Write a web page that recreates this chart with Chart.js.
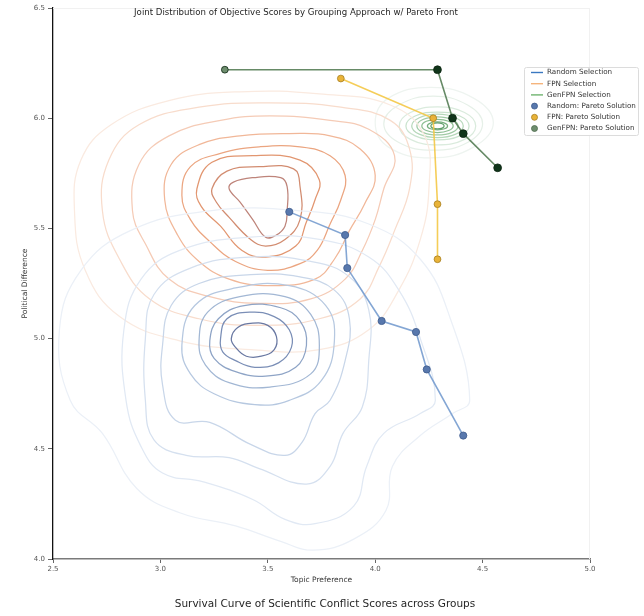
<!DOCTYPE html>
<html><head><meta charset="utf-8">
<script src="https://cdn.jsdelivr.net/npm/chart.js@4.4.1/dist/chart.umd.min.js"></script>
<style>html,body{margin:0;padding:0;background:#fff}canvas{display:block}</style>
</head><body>
<canvas id="c" width="644" height="616"></canvas>
<script>
// ---------------- DATA ----------------
const chartTitle = 'Joint Distribution of Objective Scores by Grouping Approach w/ Pareto Front';
const captionText = 'Survival Curve of Scientific Conflict Scores across Groups';
const xAxisTitle = 'Topic Preference';
const yAxisTitle = 'Political Difference';
const xTicks = [2.5, 3.0, 3.5, 4.0, 4.5, 5.0];
const yTicks = [4.0, 4.5, 5.0, 5.5, 6.0, 6.5];
const groupNames = ['Random Selection', 'FPN Selection', 'GenFPN Selection'];
const paretoNames = ['Random: Pareto Solution', 'FPN: Pareto Solution', 'GenFPN: Pareto Solution'];

const randomParetoX = [3.60, 3.86, 3.87, 4.03, 4.19, 4.24, 4.41];
const randomParetoY = [5.575, 5.47, 5.32, 5.08, 5.03, 4.86, 4.56];
const fpnParetoX = [3.84, 4.27, 4.29, 4.29];
const fpnParetoY = [6.18, 6.00, 5.61, 5.36];
const genfpnParetoX = [3.30, 4.29, 4.36, 4.41, 4.57];
const genfpnParetoY = [6.22, 6.22, 6.00, 5.93, 5.775];

// density contour rings (inner level first), [x, y] vertices
const randomContours = [
  [[3.33,5.00],[3.36,5.05],[3.43,5.07],[3.50,5.06],[3.54,5.01],[3.53,4.95],[3.47,4.92],[3.40,4.92],[3.35,4.96]],
  [[3.28,5.00],[3.31,5.09],[3.42,5.12],[3.53,5.10],[3.60,5.04],[3.61,4.96],[3.55,4.89],[3.44,4.87],[3.35,4.90],[3.29,4.94]],
  [[3.23,4.99],[3.27,5.09],[3.39,5.15],[3.56,5.14],[3.65,5.08],[3.68,4.97],[3.63,4.87],[3.49,4.83],[3.35,4.85],[3.25,4.91]],
  [[3.18,4.99],[3.22,5.12],[3.37,5.19],[3.58,5.19],[3.70,5.11],[3.74,4.97],[3.70,4.84],[3.51,4.78],[3.32,4.80],[3.21,4.88]],
  [[3.10,4.97],[3.16,5.15],[3.35,5.23],[3.60,5.24],[3.77,5.15],[3.81,4.99],[3.75,4.81],[3.60,4.72],[3.44,4.70],[3.25,4.75],[3.14,4.84]],
  [[3.01,4.97],[3.05,5.15],[3.18,5.25],[3.42,5.29],[3.65,5.28],[3.81,5.22],[3.88,5.09],[3.86,4.90],[3.79,4.72],[3.72,4.66],[3.66,4.53],[3.58,4.47],[3.42,4.52],[3.23,4.62],[3.07,4.63],[3.01,4.79]],
  [[2.93,4.72],[2.93,5.00],[2.97,5.20],[3.14,5.32],[3.42,5.37],[3.70,5.35],[3.88,5.28],[3.97,5.13],[3.97,4.90],[3.94,4.69],[3.85,4.57],[3.79,4.42],[3.68,4.34],[3.46,4.41],[3.32,4.46],[3.12,4.47],[2.97,4.54]],
  [[2.84,4.72],[2.83,5.04],[2.91,5.27],[3.09,5.40],[3.42,5.46],[3.74,5.45],[3.97,5.37],[4.11,5.22],[4.21,5.00],[4.28,4.72],[4.21,4.66],[4.04,4.57],[3.96,4.42],[3.90,4.24],[3.72,4.16],[3.58,4.18],[3.43,4.27],[3.20,4.35],[3.01,4.39],[2.91,4.51]],
  [[2.58,4.72],[2.53,5.04],[2.63,5.31],[2.86,5.49],[3.23,5.58],[3.65,5.58],[3.97,5.52],[4.21,5.36],[4.35,5.09],[4.44,4.72],[4.36,4.66],[4.21,4.56],[4.08,4.42],[4.05,4.22],[3.90,4.09],[3.71,4.04],[3.56,4.08],[3.35,4.15],[3.09,4.21],[2.89,4.32],[2.73,4.57]]
];
const fpnContours = [
  [[3.32,5.68],[3.34,5.71],[3.43,5.73],[3.56,5.73],[3.59,5.69],[3.59,5.58],[3.58,5.51],[3.54,5.47],[3.49,5.46],[3.43,5.54],[3.37,5.62]],
  [[3.24,5.68],[3.31,5.76],[3.46,5.78],[3.62,5.77],[3.65,5.69],[3.65,5.54],[3.58,5.45],[3.49,5.42],[3.42,5.45],[3.32,5.55],[3.26,5.62]],
  [[3.17,5.68],[3.24,5.80],[3.43,5.83],[3.65,5.81],[3.74,5.72],[3.72,5.63],[3.68,5.53],[3.63,5.42],[3.49,5.37],[3.38,5.40],[3.28,5.51],[3.19,5.60]],
  [[3.10,5.65],[3.14,5.78],[3.28,5.84],[3.46,5.87],[3.65,5.87],[3.79,5.83],[3.86,5.74],[3.84,5.63],[3.79,5.52],[3.73,5.40],[3.65,5.34],[3.50,5.31],[3.35,5.35],[3.23,5.44],[3.14,5.54]],
  [[3.02,5.63],[3.05,5.79],[3.18,5.88],[3.37,5.92],[3.60,5.93],[3.79,5.92],[3.93,5.86],[4.00,5.74],[3.95,5.61],[3.88,5.49],[3.81,5.36],[3.72,5.27],[3.51,5.24],[3.32,5.27],[3.18,5.35],[3.08,5.47]],
  [[2.87,5.58],[2.90,5.79],[3.04,5.92],[3.28,5.99],[3.51,6.01],[3.79,5.99],[3.97,5.95],[4.09,5.83],[4.04,5.68],[4.00,5.54],[3.94,5.40],[3.86,5.27],[3.70,5.18],[3.46,5.16],[3.23,5.19],[3.04,5.27],[2.93,5.43]],
  [[2.73,5.58],[2.76,5.81],[2.90,5.97],[3.18,6.05],[3.51,6.07],[3.84,6.05],[4.07,5.99],[4.16,5.86],[4.16,5.68],[4.09,5.49],[4.02,5.33],[3.93,5.18],[3.74,5.09],[3.46,5.06],[3.18,5.09],[2.95,5.18],[2.81,5.36]],
  [[2.60,5.58],[2.63,5.81],[2.77,5.97],[3.04,6.08],[3.37,6.12],[3.74,6.11],[4.07,6.06],[4.23,5.92],[4.25,5.68],[4.21,5.45],[4.11,5.22],[3.97,5.04],[3.74,4.95],[3.42,4.95],[3.09,4.99],[2.81,5.10],[2.65,5.31]]
];
const genfpnContours = [
  [[4.321,5.965],[4.312,5.975],[4.290,5.979],[4.268,5.975],[4.259,5.965],[4.268,5.955],[4.290,5.951],[4.312,5.955]],
  [[4.337,5.965],[4.323,5.978],[4.290,5.983],[4.257,5.978],[4.243,5.965],[4.257,5.952],[4.290,5.947],[4.323,5.952]],
  [[4.363,5.965],[4.342,5.986],[4.290,5.995],[4.238,5.986],[4.217,5.965],[4.238,5.944],[4.290,5.935],[4.342,5.944]],
  [[4.386,5.965],[4.358,5.994],[4.290,6.006],[4.222,5.994],[4.194,5.965],[4.222,5.936],[4.290,5.924],[4.358,5.936]],
  [[4.410,5.965],[4.375,6.002],[4.290,6.018],[4.205,6.002],[4.170,5.965],[4.205,5.928],[4.290,5.912],[4.375,5.928]],
  [[4.437,5.965],[4.394,6.010],[4.290,6.028],[4.186,6.010],[4.143,5.965],[4.186,5.920],[4.290,5.902],[4.394,5.920]],
  [[4.468,5.965],[4.416,6.026],[4.290,6.051],[4.164,6.026],[4.112,5.965],[4.164,5.904],[4.290,5.879],[4.416,5.904]],
  [[4.500,5.975],[4.430,6.060],[4.270,6.100],[4.110,6.060],[4.040,5.975],[4.110,5.890],[4.270,5.855],[4.430,5.890]],
  [[4.550,5.980],[4.460,6.090],[4.260,6.140],[4.060,6.090],[4.000,5.980],[4.060,5.870],[4.260,5.820],[4.460,5.870]]
];

// ---------------- STYLE ----------------
const FONT = '"DejaVu Sans", "Liberation Sans", sans-serif';
const randomRingColors = ['rgb(105,120,162)','rgb(122,142,182)','rgb(142,164,198)','rgb(162,183,212)','rgb(182,200,224)','rgb(200,214,233)','rgb(213,224,239)','rgb(225,233,244)','rgb(235,240,247)'];
const fpnRingColors = ['rgb(190,132,122)','rgb(210,140,112)','rgb(226,150,112)','rgb(235,165,128)','rgb(241,183,152)','rgb(245,203,182)','rgb(248,220,204)','rgb(250,234,224)'];
const genfpnRingColors = ['rgb(95,158,108)','rgb(118,174,126)','rgb(140,190,146)','rgb(160,202,165)','rgb(182,216,186)','rgb(202,227,206)','rgb(218,235,221)','rgb(230,240,232)','rgb(238,244,240)'];
const legendLineColors = ['#3a78c0', '#f5b47c', '#6fb46f'];
const paretoFill = ['#5878ad', '#e9b338', '#6e8e6e'];
const paretoEdge = ['#3d5a8c', '#a77f22', '#4d6b4d'];
const paretoLine = ['rgba(110,150,205,0.85)', 'rgba(244,200,70,0.9)', 'rgba(85,125,85,0.9)'];
const genfpnPointFill = ['#6e8e6e', '#10351a', '#10351a', '#10351a', '#10351a'];

function pts(xs, ys) { return xs.map((x, i) => ({x: x, y: ys[i]})); }
// closed ring: [last, p0..pn-1, p0, p1]; first and last segments are hidden,
// so every visible vertex gets its true neighbours for the smooth curve
function ring(r) {
  const n = r.length;
  const seq = [r[n - 1]].concat(r, [r[0], r[1]]);
  return seq.map(p => ({x: p[0], y: p[1]}));
}

const datasets = [];
datasets.push({label: paretoNames[0], data: pts(randomParetoX, randomParetoY), showLine: true, borderColor: paretoLine[0], borderWidth: 1.6,
  backgroundColor: paretoFill[0], pointBorderColor: paretoEdge[0], pointBorderWidth: 0.8, pointRadius: 3.6, order: 0});
datasets.push({label: paretoNames[1], data: pts(fpnParetoX, fpnParetoY), showLine: true, borderColor: paretoLine[1], borderWidth: 1.6,
  backgroundColor: paretoFill[1], pointBorderColor: paretoEdge[1], pointBorderWidth: 0.8, pointRadius: 3.4, order: 0});
datasets.push({label: paretoNames[2], data: pts(genfpnParetoX, genfpnParetoY), showLine: true, borderColor: paretoLine[2], borderWidth: 1.6,
  backgroundColor: genfpnPointFill, pointBorderColor: '#0b2410', pointBorderWidth: 0.8, pointRadius: [3.4, 3.9, 3.9, 3.9, 3.9], order: 0});

function addRings(list, colors, name) {
  list.forEach((r, i) => {
    const last = r.length + 1;
    datasets.push({label: name + ' level ' + (i + 1), data: ring(r), showLine: true,
      borderColor: colors[i], borderWidth: 1.25, pointRadius: 0, tension: 0.42, order: 1,
      segment: {borderColor: c => (c.p0DataIndex === 0 || c.p0DataIndex === last) ? 'rgba(0,0,0,0)' : undefined}});
  });
}
addRings(randomContours, randomRingColors, groupNames[0]);
addRings(fpnContours, fpnRingColors, groupNames[1]);
addRings(genfpnContours, genfpnRingColors, groupNames[2]);

const decorPlugin = {
  id: 'decor',
  beforeDatasetsDraw(chart) {
    const {ctx, chartArea: a} = chart;
    ctx.save();
    ctx.strokeStyle = '#f1f1f1';
    ctx.lineWidth = 1;
    ctx.beginPath();
    ctx.moveTo(a.left, a.top + 0.5); ctx.lineTo(a.right, a.top + 0.5);
    ctx.moveTo(a.right - 0.5, a.top); ctx.lineTo(a.right - 0.5, a.bottom);
    ctx.stroke();
    ctx.restore();
  },
  afterDraw(chart) {
    const {ctx} = chart;
    ctx.save();
    ctx.fillStyle = '#262626';
    ctx.textAlign = 'center';
    ctx.textBaseline = 'middle';
    ctx.font = '8.6px ' + FONT;
    ctx.fillText(chartTitle, 296, 13);
    ctx.font = '10.5px ' + FONT;
    ctx.fillText(captionText, 325, 604);
    // legend
    const bx = 524.5, by = 67.5, bw = 114, bh = 68;
    ctx.fillStyle = 'rgba(255,255,255,0.9)';
    ctx.strokeStyle = '#dcdcdc';
    ctx.lineWidth = 1;
    ctx.beginPath();
    if (ctx.roundRect) ctx.roundRect(bx, by, bw, bh, 2); else ctx.rect(bx, by, bw, bh);
    ctx.fill(); ctx.stroke();
    ctx.font = '7.2px ' + FONT;
    ctx.textAlign = 'left';
    const rowY = i => by + 5 + i * 11.2;
    groupNames.forEach((n, i) => {
      const y = rowY(i);
      ctx.strokeStyle = legendLineColors[i];
      ctx.lineWidth = 1.4;
      ctx.beginPath(); ctx.moveTo(531, y); ctx.lineTo(543, y); ctx.stroke();
      ctx.fillStyle = '#333';
      ctx.fillText(n, 547, y);
    });
    paretoNames.forEach((n, i) => {
      const y = rowY(i + 3);
      ctx.beginPath(); ctx.arc(534.5, y, 3, 0, Math.PI * 2);
      ctx.fillStyle = paretoFill[i]; ctx.fill();
      ctx.strokeStyle = paretoEdge[i]; ctx.lineWidth = 0.8; ctx.stroke();
      ctx.fillStyle = '#333';
      ctx.fillText(n, 547, y);
    });
    ctx.restore();
  }
};

new Chart(document.getElementById('c'), {
  type: 'scatter',
  data: {datasets: datasets},
  plugins: [decorPlugin],
  options: {
    responsive: false,
    maintainAspectRatio: false,
    animation: false,
    devicePixelRatio: 1,
    layout: {padding: {top: 8, right: 54, left: 0, bottom: 0}},
    plugins: {
      legend: {display: false},
      tooltip: {enabled: false},
      title: {display: false}
    },
    scales: {
      x: {
        type: 'linear', min: 2.5, max: 5.0,
        afterBuildTicks: s => { s.ticks = xTicks.map(v => ({value: v})); },
        afterFit: s => { s.height = 57; },
        ticks: {callback: v => Number(v).toFixed(1), color: '#555', font: {family: FONT, size: 7}, padding: 2, maxRotation: 0},
        grid: {drawOnChartArea: false, drawTicks: true, tickLength: 4, color: '#666', lineWidth: 1},
        border: {display: true, color: '#7a7a7a', width: 1.6},
        title: {display: true, text: xAxisTitle, color: '#333', font: {family: FONT, size: 7.5}, padding: {top: 0, bottom: 31}}
      },
      y: {
        type: 'linear', min: 4.0, max: 6.5,
        afterBuildTicks: s => { s.ticks = yTicks.map(v => ({value: v})); },
        afterFit: s => { s.width = 53; },
        ticks: {callback: v => Number(v).toFixed(1), color: '#555', font: {family: FONT, size: 7}, padding: 3},
        grid: {drawOnChartArea: false, drawTicks: true, tickLength: 5, color: '#666', lineWidth: 1},
        border: {display: true, color: '#111', width: 1.3},
        title: {display: true, text: yAxisTitle, color: '#333', font: {family: FONT, size: 7.5}, padding: {top: 21, bottom: 0}}
      }
    }
  }
});
</script>
</body></html>
